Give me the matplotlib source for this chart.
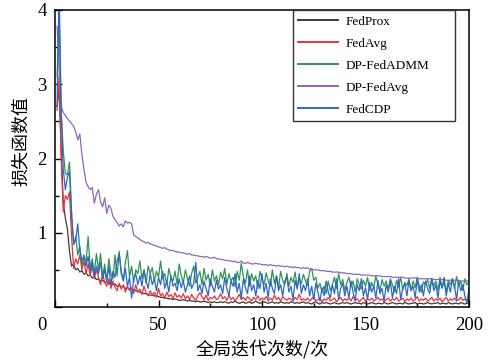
import matplotlib
matplotlib.use("Agg")
import matplotlib.pyplot as plt
import numpy as np

rounds = list(range(1, 201))

fedprox = [
    2.70, 2.95, 2.10, 1.40, 1.20, 1.05, 0.75, 0.55, 0.58, 0.50, 0.52, 0.47, 0.49, 0.44, 0.46, 0.42, 0.43, 0.39, 0.41, 0.37,
    0.38, 0.35, 0.36, 0.33, 0.34, 0.31, 0.32, 0.30, 0.31, 0.28, 0.29, 0.27, 0.28, 0.25, 0.26, 0.24, 0.25, 0.23, 0.22, 0.21,
    0.20, 0.19, 0.18, 0.18, 0.17, 0.16, 0.16, 0.15, 0.15, 0.14, 0.13, 0.13, 0.12, 0.12, 0.11, 0.11, 0.10, 0.11, 0.10, 0.09,
    0.09, 0.10, 0.09, 0.08, 0.09, 0.08, 0.08, 0.07, 0.08, 0.07, 0.07, 0.08, 0.07, 0.06, 0.07, 0.06, 0.07, 0.06, 0.06, 0.07,
    0.06, 0.07, 0.06, 0.05, 0.07, 0.06, 0.08, 0.06, 0.05, 0.06, 0.07, 0.05, 0.06, 0.07, 0.05, 0.06, 0.08, 0.06, 0.05, 0.06,
    0.07, 0.06, 0.05, 0.06, 0.07, 0.05, 0.06, 0.05, 0.07, 0.06, 0.05, 0.06, 0.05, 0.07, 0.06, 0.05, 0.06, 0.05, 0.06, 0.07,
    0.05, 0.06, 0.05, 0.04, 0.06, 0.07, 0.05, 0.04, 0.06, 0.05, 0.06, 0.05, 0.04, 0.05, 0.06, 0.05, 0.04, 0.05, 0.06, 0.05,
    0.06, 0.05, 0.04, 0.05, 0.06, 0.05, 0.05, 0.04, 0.06, 0.05, 0.04, 0.05, 0.06, 0.05, 0.04, 0.05, 0.05, 0.04, 0.06, 0.05,
    0.04, 0.05, 0.06, 0.05, 0.04, 0.05, 0.05, 0.04, 0.06, 0.05, 0.04, 0.05, 0.05, 0.06, 0.04, 0.05, 0.05, 0.04, 0.05, 0.06,
    0.05, 0.04, 0.05, 0.05, 0.06, 0.04, 0.05, 0.05, 0.04, 0.06, 0.05, 0.04, 0.05, 0.05, 0.04, 0.06, 0.05, 0.04, 0.05, 0.05,
]

fedavg = [
    2.65, 3.10, 2.00, 1.28, 1.50, 1.45, 1.55, 0.95, 0.52, 0.65, 0.58, 0.70, 0.50, 0.62, 0.45, 0.58, 0.42, 0.55, 0.38, 0.50,
    0.40, 0.30, 0.45, 0.33, 0.28, 0.38, 0.25, 0.35, 0.27, 0.22, 0.32, 0.24, 0.30, 0.20, 0.28, 0.22, 0.26, 0.18, 0.30, 0.20,
    0.24, 0.17, 0.28, 0.19, 0.15, 0.22, 0.16, 0.20, 0.13, 0.25, 0.15, 0.18, 0.12, 0.20, 0.14, 0.17, 0.11, 0.19, 0.13, 0.16,
    0.12, 0.18, 0.11, 0.15, 0.10, 0.17, 0.12, 0.09, 0.15, 0.19, 0.14, 0.10, 0.16, 0.09, 0.13, 0.11, 0.15, 0.10, 0.12, 0.18,
    0.11, 0.14, 0.09, 0.16, 0.10, 0.13, 0.08, 0.12, 0.17, 0.10, 0.13, 0.09, 0.14, 0.11, 0.08, 0.13, 0.10, 0.15, 0.09, 0.12,
    0.10, 0.14, 0.08, 0.12, 0.09, 0.16, 0.10, 0.13, 0.08, 0.14, 0.11, 0.09, 0.12, 0.10, 0.08, 0.13, 0.10, 0.17, 0.09, 0.11,
    0.09, 0.12, 0.08, 0.11, 0.14, 0.08, 0.10, 0.12, 0.07, 0.11, 0.09, 0.13, 0.08, 0.10, 0.12, 0.07, 0.10, 0.13, 0.08, 0.11,
    0.09, 0.12, 0.08, 0.14, 0.09, 0.11, 0.07, 0.10, 0.13, 0.08, 0.11, 0.09, 0.12, 0.08, 0.10, 0.13, 0.09, 0.11, 0.07, 0.10,
    0.12, 0.08, 0.11, 0.09, 0.13, 0.08, 0.10, 0.12, 0.07, 0.11, 0.09, 0.12, 0.08, 0.10, 0.14, 0.08, 0.11, 0.09, 0.12, 0.08,
    0.10, 0.13, 0.08, 0.11, 0.09, 0.12, 0.07, 0.10, 0.13, 0.08, 0.11, 0.09, 0.12, 0.08, 0.10, 0.13, 0.09, 0.11, 0.08, 0.10,
]

dp_fedadmm = [
    3.10, 3.88, 2.65, 2.10, 1.80, 1.78, 1.95, 1.30, 0.84, 0.95, 0.70, 0.82, 0.55, 0.68, 0.60, 0.95, 0.52, 0.65, 0.45, 0.72,
    0.50, 0.72, 0.40, 0.58, 0.35, 0.65, 0.45, 0.38, 0.70, 0.42, 0.75, 0.48, 0.36, 0.60, 0.76, 0.40, 0.55, 0.33, 0.50, 0.45,
    0.62, 0.38, 0.50, 0.32, 0.55, 0.45, 0.53, 0.35, 0.48, 0.40, 0.62, 0.38, 0.45, 0.30, 0.52, 0.40, 0.35, 0.48, 0.30, 0.58,
    0.42, 0.33, 0.50, 0.38, 0.28, 0.45, 0.55, 0.32, 0.40, 0.48, 0.30, 0.52, 0.36, 0.44, 0.28, 0.50, 0.35, 0.42, 0.30, 0.47,
    0.38, 0.52, 0.30, 0.45, 0.35, 0.40, 0.27, 0.48, 0.36, 0.59, 0.40, 0.32, 0.50, 0.28, 0.45, 0.35, 0.42, 0.25, 0.48, 0.38,
    0.30, 0.46, 0.35, 0.28, 0.50, 0.32, 0.42, 0.26, 0.48, 0.36, 0.30, 0.45, 0.28, 0.40, 0.33, 0.47, 0.27, 0.38, 0.31, 0.44,
    0.35, 0.29, 0.48, 0.52, 0.36, 0.40, 0.25, 0.32, 0.20, 0.28, 0.18, 0.35, 0.22, 0.30, 0.40, 0.25, 0.45, 0.30, 0.37, 0.22,
    0.33, 0.40, 0.27, 0.35, 0.20, 0.38, 0.30, 0.24, 0.36, 0.28, 0.40, 0.22, 0.33, 0.26, 0.42, 0.30, 0.21, 0.37, 0.28, 0.35,
    0.24, 0.38, 0.30, 0.20, 0.36, 0.27, 0.40, 0.23, 0.33, 0.29, 0.38, 0.22, 0.35, 0.26, 0.40, 0.28, 0.20, 0.34, 0.30, 0.37,
    0.25, 0.38, 0.28, 0.35, 0.22, 0.40, 0.27, 0.33, 0.20, 0.36, 0.30, 0.38, 0.25, 0.41, 0.28, 0.35, 0.22, 0.38, 0.30, 0.33,
]

dp_fedavg = [
    3.78, 3.22, 2.70, 2.62, 2.58, 2.54, 2.50, 2.47, 2.43, 2.36, 2.25, 2.33, 2.05, 1.85, 1.68, 1.62, 1.58, 1.61, 1.40, 1.52,
    1.58, 1.42, 1.35, 1.47, 1.26, 1.37, 1.33, 1.22, 1.18, 1.14, 1.09, 1.12, 1.08, 1.16, 1.13, 1.14, 1.12, 0.97, 0.95, 0.93,
    0.91, 0.89, 0.88, 0.86, 0.87, 0.85, 0.84, 0.83, 0.82, 0.81, 0.80, 0.79, 0.80, 0.78, 0.77, 0.76, 0.76, 0.75, 0.74, 0.74,
    0.73, 0.73, 0.72, 0.71, 0.72, 0.70, 0.70, 0.69, 0.69, 0.68, 0.68, 0.67, 0.68, 0.67, 0.66, 0.66, 0.67, 0.65, 0.65, 0.64,
    0.64, 0.63, 0.63, 0.62, 0.62, 0.61, 0.62, 0.60, 0.60, 0.62, 0.59, 0.59, 0.60, 0.59, 0.58, 0.58, 0.59, 0.58, 0.58, 0.57,
    0.57, 0.57, 0.56, 0.57, 0.56, 0.56, 0.55, 0.56, 0.55, 0.55, 0.54, 0.55, 0.54, 0.54, 0.53, 0.54, 0.53, 0.53, 0.52, 0.53,
    0.52, 0.53, 0.51, 0.51, 0.50, 0.50, 0.50, 0.49, 0.49, 0.49, 0.48, 0.48, 0.48, 0.47, 0.47, 0.47, 0.47, 0.46, 0.46, 0.46,
    0.45, 0.45, 0.45, 0.44, 0.44, 0.44, 0.44, 0.43, 0.43, 0.43, 0.43, 0.43, 0.42, 0.42, 0.42, 0.42, 0.42, 0.41, 0.41, 0.41,
    0.41, 0.41, 0.40, 0.40, 0.40, 0.40, 0.40, 0.40, 0.39, 0.39, 0.39, 0.39, 0.39, 0.39, 0.39, 0.38, 0.38, 0.38, 0.38, 0.38,
    0.38, 0.38, 0.37, 0.37, 0.37, 0.37, 0.37, 0.37, 0.36, 0.36, 0.36, 0.36, 0.36, 0.36, 0.36, 0.35, 0.35, 0.35, 0.35, 0.35,
]

fedcdp = [
    2.70, 4.30, 2.60, 1.85, 1.58, 1.75, 1.82, 1.20, 0.85, 0.90, 1.12, 0.75, 0.62, 0.70, 0.55, 0.68, 0.48, 0.60, 0.42, 0.55,
    0.45, 0.60, 0.38, 0.50, 0.35, 0.55, 0.30, 0.48, 0.40, 0.62, 0.72, 0.45, 0.35, 0.52, 0.28, 0.40, 0.12, 0.38, 0.45, 0.30,
    0.42, 0.28, 0.50, 0.35, 0.25, 0.45, 0.30, 0.38, 0.22, 0.40, 0.30, 0.48, 0.25, 0.35, 0.20, 0.42, 0.28, 0.32, 0.22, 0.38,
    0.26, 0.35, 0.20, 0.30, 0.42, 0.25, 0.32, 0.60, 0.22, 0.30, 0.18, 0.35, 0.25, 0.15, 0.38, 0.28, 0.20, 0.36, 0.24, 0.30,
    0.18, 0.40, 0.25, 0.15, 0.35, 0.28, 0.45, 0.20, 0.32, 0.12, 0.38, 0.26, 0.18, 0.42, 0.22, 0.30, 0.15, 0.36, 0.25, 0.45,
    0.20, 0.32, 0.12, 0.38, 0.25, 0.18, 0.42, 0.22, 0.30, 0.15, 0.35, 0.40, 0.20, 0.28, 0.10, 0.36, 0.24, 0.45, 0.18, 0.30,
    0.22, 0.38, 0.15, 0.28, 0.10, 0.32, 0.20, 0.08, 0.26, 0.15, 0.35, 0.20, 0.12, 0.30, 0.18, 0.38, 0.10, 0.25, 0.32, 0.15,
    0.28, 0.12, 0.35, 0.20, 0.08, 0.30, 0.22, 0.38, 0.15, 0.26, 0.10, 0.33, 0.20, 0.28, 0.12, 0.36, 0.18, 0.25, 0.08, 0.30,
    0.20, 0.35, 0.12, 0.28, 0.18, 0.38, 0.10, 0.25, 0.32, 0.15, 0.36, 0.22, 0.28, 0.12, 0.38, 0.20, 0.30, 0.15, 0.35, 0.25,
    0.18, 0.38, 0.22, 0.30, 0.12, 0.35, 0.25, 0.40, 0.15, 0.32, 0.20, 0.38, 0.28, 0.10, 0.35, 0.22, 0.30, 0.15, 0.05, 0.25,
]

series_names = ["FedProx", "FedAvg", "DP-FedADMM", "DP-FedAvg", "FedCDP"]
series_values = [fedprox, fedavg, dp_fedadmm, dp_fedavg, fedcdp]
series_colors = ["#3c3c3c", "#e8333b", "#2e9557", "#8c67bd", "#2e68c3"]

x_ticks = [0, 50, 100, 150, 200]
x_tick_labels = ["", "50", "100", "150", "200"]
y_ticks = [0, 1, 2, 3, 4]
y_tick_labels = ["", "1", "2", "3", "4"]

plt.rcParams['font.family'] = ['Liberation Serif', 'Noto Sans CJK SC']

fig = plt.figure(figsize=(4.9, 3.64), dpi=100)
ax = fig.add_axes([55/490, 1-307/364, 414/490, 297/364])

for name, vals, col in zip(series_names, series_values, series_colors):
    ax.plot(rounds, vals, color=col, lw=0.9, label=name)

ax.set_xlim(0, 200)
ax.set_ylim(0, 4)
ax.set_xticks(x_ticks)
ax.set_xticklabels(x_tick_labels)
ax.set_yticks(y_ticks)
ax.set_yticklabels(y_tick_labels)
ax.set_xticks([25, 75, 125, 175], minor=True)
ax.set_yticks([0.5, 1.5, 2.5, 3.5], minor=True)
ax.tick_params(which='major', direction='in', length=5, width=1.0, labelsize=13.5)
ax.tick_params(axis='x', which='major', pad=7)
ax.tick_params(axis='y', which='major', pad=6)
ax.tick_params(which='minor', direction='in', length=3, width=1.0)
for sp in ax.spines.values():
    sp.set_linewidth(1.1)

fig.text(42/490, 1-325/364, "0", ha='center', va='center', fontsize=13.5)

ax.set_xlabel("全局迭代次数/次", fontsize=13, family=['Noto Sans CJK SC'])
ax.xaxis.set_label_coords(0.5, (307-340)/297)
ax.set_ylabel("损失函数值", fontsize=13, family=['Noto Sans CJK SC'])
ax.yaxis.set_label_coords((30-55)/414, (307-141.5)/297)

leg = ax.legend(loc='upper left', bbox_to_anchor=(0.575, 0.6, 0.391, 0.4), mode='expand',
                borderaxespad=0, fancybox=False, edgecolor='#333333', framealpha=1,
                fontsize=9.5, handlelength=3.0, handletextpad=0.6, labelspacing=0.74,
                borderpad=0.4)
leg.get_frame().set_linewidth(1.0)
for line in leg.get_lines():
    line.set_linewidth(1.4)

fig.savefig("out.png", dpi=100)
